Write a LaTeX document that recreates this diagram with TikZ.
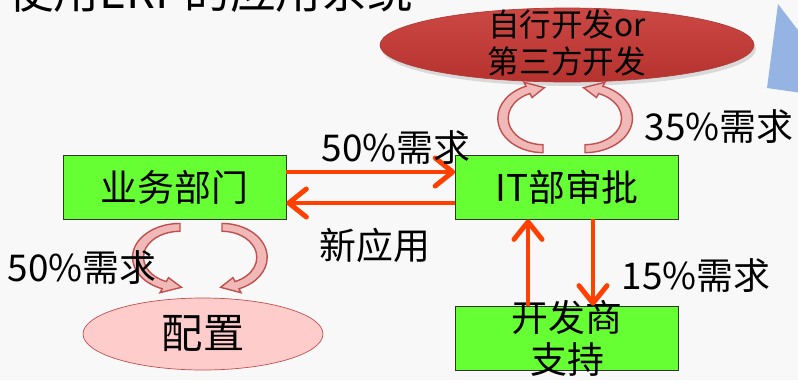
\documentclass[tikz,border=0pt]{standalone}
\usepackage{fontspec}
\setmainfont{Noto Sans CJK SC}
\usepackage{xcolor}
\usepackage{tikz}
\usetikzlibrary{positioning,calc,shapes.geometric,arrows.meta,shadows}

\definecolor{boxgreen}{RGB}{102,255,51}
\definecolor{flowred}{RGB}{255,64,0}
\definecolor{ringedge}{RGB}{192,80,77}
\definecolor{ringfill}{RGB}{240,168,168}
\definecolor{devtop}{RGB}{204,72,68}
\definecolor{devbottom}{RGB}{182,50,46}
\definecolor{devedge}{RGB}{175,60,56}
\definecolor{cfgpink}{RGB}{255,204,204}
\definecolor{slideblue}{RGB}{149,179,227}
\definecolor{slidebg}{RGB}{248,248,248}

\newcommand{\ringarrow}[6]{%
  \begin{scope}[shift={(#1)},xscale=#2,yscale=#3]
    \draw[ringband] (#4:1.13) arc[start angle=#4,end angle=#5,radius=1.13]
      -- (#5:1.27) -- (#6:1) -- (#5:0.73) -- (#5:0.87)
      arc[start angle=#5,end angle=#4,radius=0.87] -- cycle;
  \end{scope}}

\begin{document}
\begin{tikzpicture}[x=0.02cm,y=0.02cm,
    greenbox/.style={rectangle,draw=black!80,fill=boxgreen,minimum width=4.46cm,minimum height=1.28cm,font=\fontsize{21pt}{24pt}\selectfont},
    flow/.style={draw=flowred,line width=2.8pt,-{Straight Barb[length=10pt,width=16pt,round]}},
    ringband/.style={fill=ringfill,fill opacity=0.8,draw=ringedge,line width=0.8pt},
    tag/.style={font=\fontsize{21pt}{24pt}\selectfont}]
		\useasboundingbox (0,0) rectangle (798,380);
		\clip (0,0) rectangle (798,380);
		\fill[slidebg] (0,0) rectangle (798,380);
		\fill[slideblue] (778,376) -- (830,308) -- (830,283) -- (767,292) -- cycle;
		\node[anchor=base west,font=\fontsize{26pt}{30pt}\selectfont] (title) at (2,372) {使用ERP的应用系统};

		\node[greenbox] (biz) at (174.5,193) {业务部门};
		\node[greenbox] (it) at (567,193) {IT部审批};
		\node[greenbox,label={[tag,align=center]center:开发商\\支持}] (vendor) at (567,42) {};
		\node[ellipse,draw=devedge,top color=devtop,bottom color=devbottom,minimum width=7.48cm,minimum height=1.48cm,
			drop shadow={opacity=0.25,shadow xshift=0.04cm,shadow yshift=-0.08cm},
			label={[align=center,yshift=0.04cm,font=\fontsize{18pt}{21.5pt}\selectfont]center:自行开发or\\第三方开发}] (dev) at (567,335) {};
		\node[ellipse,draw=ringedge,fill=cfgpink,inner sep=0pt,minimum width=4.8cm,minimum height=1.44cm,font=\fontsize{23.5pt}{28pt}\selectfont] (cfg) at (203,46) {配置};

		\draw[flow] ([yshift=0.3cm]biz.east) -- ([yshift=0.3cm]it.west);
		\draw[flow] ([yshift=-0.32cm]it.west) -- ([yshift=-0.32cm]biz.east);
		\draw[flow] ([xshift=-0.78cm]vendor.north) -- ([xshift=-0.78cm]it.south);
		\draw[flow] ([xshift=0.52cm]it.south) -- ([xshift=0.52cm]vendor.north);

		\coordinate (lt) at ($(it.north)+(-24,36.5)$);
		\coordinate (rt) at ($(it.north)+(18,36.5)$);
		\coordinate (lb) at ($(biz.south)+(5.5,-38)$);
		\coordinate (rb) at ($(biz.south)+(47.5,-38)$);
		\ringarrow{lt}{40}{30.5}{270}{112}{88}
		\ringarrow{rt}{42}{30.5}{-90}{68}{92}
		\ringarrow{lb}{42}{30}{90}{248}{272}
		\ringarrow{rb}{40}{30}{90}{-68}{-92}

		\node[tag] (t50a) at (396,232) {50\%需求};
		\node[tag] (tnew) at (375,135) {新应用};
		\node[tag] (t50b) at (82,112) {50\%需求};
		\node[tag] (t35) at (719,253) {35\%需求};
		\node[tag] (t15) at (696,104) {15\%需求};
	\end{tikzpicture}
\end{document}
